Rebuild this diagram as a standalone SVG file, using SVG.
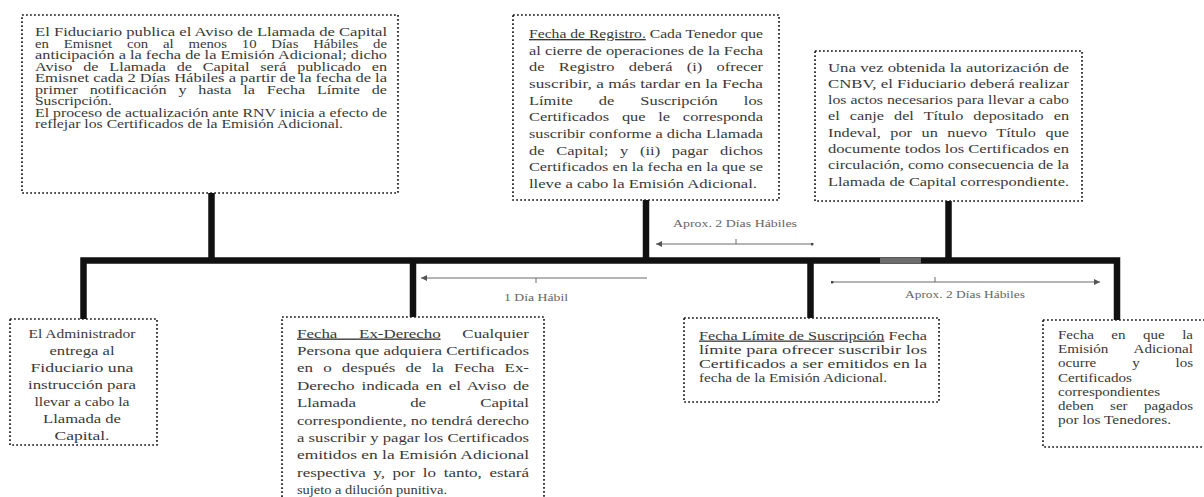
<svg xmlns="http://www.w3.org/2000/svg" width="1204" height="497" viewBox="0 0 1204 497">
<defs>
<style>
.box{fill:#fff;stroke:#1a1a1a;stroke-width:1.7;stroke-dasharray:1.8 2.2}
.c{fill:none;stroke:#111;stroke-width:6.5;stroke-linejoin:miter}
.t{font-family:"Liberation Serif","Times New Roman",serif;fill:#383838}
.f115{font-size:11.5px}
.f125{font-size:12.5px}
.f13{font-size:13px}
.f135{font-size:13.5px}
.u{text-decoration:underline}
.ar{stroke:#6a6a6a;stroke-width:1;fill:none}
.lb{font-family:"Liberation Serif","Times New Roman",serif;font-size:10px;fill:#666}
</style>
<marker id="ah" viewBox="0 0 8 8" refX="8" refY="4" markerWidth="6" markerHeight="6" markerUnits="userSpaceOnUse" orient="auto-start-reverse"><path d="M0,0 L8,4 L0,8 z" fill="#555"/></marker>
<marker id="dot" viewBox="0 0 4 4" refX="2" refY="2" markerWidth="3" markerHeight="3" markerUnits="userSpaceOnUse"><circle cx="2" cy="2" r="2" fill="#444"/></marker>
</defs>
<rect width="1204" height="497" fill="#fff"/>

<g id="connectors">
<path class="c" d="M83.5 319 V260.5 H1117 V320"/>
<path class="c" d="M211.5 193 V260.5"/>
<path class="c" d="M646 200 V260.5"/>
<path class="c" d="M948.5 201 V260.5"/>
<path class="c" d="M413 260.5 V317"/>
<path class="c" d="M810.5 260.5 V318"/>
<rect x="880" y="257.5" width="41" height="6" fill="#6d6d6d"/>
<line class="ar" x1="656" y1="244" x2="812" y2="244" marker-start="url(#ah)" marker-end="url(#dot)"/>
<line class="ar" x1="736" y1="239" x2="736" y2="244"/>
<text class="lb" x="673" y="227" textLength="124" lengthAdjust="spacingAndGlyphs">Aprox. 2 Días Hábiles</text>
<line class="ar" x1="421" y1="278" x2="647" y2="278" marker-start="url(#ah)"/>
<line class="ar" x1="536" y1="278" x2="536" y2="283"/>
<text class="lb" x="504" y="301" textLength="64" lengthAdjust="spacingAndGlyphs">1 Día Hábil</text>
<line class="ar" x1="832" y1="282" x2="1100" y2="282" marker-start="url(#dot)" marker-end="url(#ah)"/>
<line class="ar" x1="935" y1="277" x2="935" y2="282"/>
<text class="lb" x="905" y="298" textLength="120" lengthAdjust="spacingAndGlyphs">Aprox. 2 Días Hábiles</text>
</g>

<g id="node-aviso">
<rect class="box" x="22" y="15" width="376" height="178"/>
<g class="t f115">
<text x="35" y="36" textLength="352" lengthAdjust="spacingAndGlyphs">El Fiduciario publica el Aviso de Llamada de Capital</text>
<text x="35" y="47.5" textLength="352" lengthAdjust="spacingAndGlyphs" style="word-spacing:8.7px">en Emisnet con al menos 10 Días Hábiles de</text>
<text x="35" y="59" textLength="352" lengthAdjust="spacingAndGlyphs">anticipación a la fecha de la Emisión Adicional; dicho</text>
<text x="35" y="70.5" textLength="352" lengthAdjust="spacingAndGlyphs" style="word-spacing:4.8px">Aviso de Llamada de Capital será publicado en</text>
<text x="35" y="82" textLength="352" lengthAdjust="spacingAndGlyphs">Emisnet cada 2 Días Hábiles a partir de la fecha de la</text>
<text x="35" y="93.5" textLength="352" lengthAdjust="spacingAndGlyphs" style="word-spacing:5.6px">primer notificación y hasta la Fecha Límite de</text>
<text x="35" y="105" textLength="77" lengthAdjust="spacingAndGlyphs">Suscripción.</text>
<text x="35" y="116.5" textLength="352" lengthAdjust="spacingAndGlyphs">El proceso de actualización ante RNV inicia a efecto de</text>
<text x="35" y="128" textLength="308" lengthAdjust="spacingAndGlyphs">reflejar los Certificados de la Emisión Adicional.</text>
</g>
</g>

<g id="node-registro">
<rect class="box" x="513" y="15" width="266" height="185"/>
<g class="t f135">
<text x="529" y="38" textLength="234" lengthAdjust="spacingAndGlyphs"><tspan class="u">Fecha de Registro.</tspan> Cada Tenedor que</text>
<text x="529" y="54.6" textLength="234" lengthAdjust="spacingAndGlyphs">al cierre de operaciones de la Fecha</text>
<text x="529" y="71.3" textLength="234" lengthAdjust="spacingAndGlyphs" style="word-spacing:8.4px">de Registro deberá (i) ofrecer</text>
<text x="529" y="87.9" textLength="234" lengthAdjust="spacingAndGlyphs">suscribir, a más tardar en la Fecha</text>
<text x="529" y="104.6" textLength="234" lengthAdjust="spacingAndGlyphs" style="word-spacing:18.1px">Límite de Suscripción los</text>
<text x="529" y="121.2" textLength="234" lengthAdjust="spacingAndGlyphs" style="word-spacing:7.1px">Certificados que le corresponda</text>
<text x="529" y="137.9" textLength="234" lengthAdjust="spacingAndGlyphs">suscribir conforme a dicha Llamada</text>
<text x="529" y="154.5" textLength="234" lengthAdjust="spacingAndGlyphs" style="word-spacing:6.3px">de Capital; y (ii) pagar dichos</text>
<text x="529" y="171.2" textLength="234" lengthAdjust="spacingAndGlyphs">Certificados en la fecha en la que se</text>
<text x="529" y="187.8" textLength="228" lengthAdjust="spacingAndGlyphs">lleve a cabo la Emisión Adicional.</text>
</g>
</g>

<g id="node-canje">
<rect class="box" x="815" y="51" width="267" height="150"/>
<g class="t f135">
<text x="828" y="71.5" textLength="241" lengthAdjust="spacingAndGlyphs">Una vez obtenida la autorización de</text>
<text x="828" y="87.8" textLength="241" lengthAdjust="spacingAndGlyphs">CNBV, el Fiduciario deberá realizar</text>
<text x="828" y="104.1" textLength="241" lengthAdjust="spacingAndGlyphs">los actos necesarios para llevar a cabo</text>
<text x="828" y="120.4" textLength="241" lengthAdjust="spacingAndGlyphs" style="word-spacing:5px">el canje del Título depositado en</text>
<text x="828" y="136.7" textLength="241" lengthAdjust="spacingAndGlyphs" style="word-spacing:4.6px">Indeval, por un nuevo Título que</text>
<text x="828" y="153" textLength="241" lengthAdjust="spacingAndGlyphs">documente todos los Certificados en</text>
<text x="828" y="169.3" textLength="241" lengthAdjust="spacingAndGlyphs">circulación, como consecuencia de la</text>
<text x="828" y="185.6" textLength="241" lengthAdjust="spacingAndGlyphs">Llamada de Capital correspondiente.</text>
</g>
</g>

<g id="node-administrador">
<rect class="box" x="10" y="319" width="147" height="126"/>
<g class="t f13">
<text x="28.5" y="337.5" textLength="107" lengthAdjust="spacingAndGlyphs">El Administrador</text>
<text x="49.5" y="354.6" textLength="65" lengthAdjust="spacingAndGlyphs">entrega al</text>
<text x="30.5" y="371.7" textLength="103" lengthAdjust="spacingAndGlyphs">Fiduciario una</text>
<text x="28" y="388.8" textLength="108" lengthAdjust="spacingAndGlyphs">instrucción para</text>
<text x="34.5" y="405.9" textLength="95" lengthAdjust="spacingAndGlyphs">llevar a cabo la</text>
<text x="43" y="423" textLength="78" lengthAdjust="spacingAndGlyphs">Llamada de</text>
<text x="54.5" y="440.1" textLength="55" lengthAdjust="spacingAndGlyphs">Capital.</text>
</g>
</g>

<g id="node-exderecho">
<rect class="box" x="282" y="317" width="262" height="200"/>
<g class="t f135">
<text x="297" y="337.5" textLength="232" lengthAdjust="spacingAndGlyphs" style="word-spacing:14px"><tspan class="u">Fecha Ex-Derecho</tspan> Cualquier</text>
<text x="297" y="354.9" textLength="232" lengthAdjust="spacingAndGlyphs">Persona que adquiera Certificados</text>
<text x="297" y="372.3" textLength="232" lengthAdjust="spacingAndGlyphs" style="word-spacing:4.8px">en o después de la Fecha Ex-</text>
<text x="297" y="389.7" textLength="232" lengthAdjust="spacingAndGlyphs" style="word-spacing:2px">Derecho indicada en el Aviso de</text>
<text x="297" y="407.1" textLength="232" lengthAdjust="spacingAndGlyphs" style="word-spacing:40px">Llamada de Capital</text>
<text x="297" y="424.5" textLength="232" lengthAdjust="spacingAndGlyphs">correspondiente, no tendrá derecho</text>
<text x="297" y="441.9" textLength="232" lengthAdjust="spacingAndGlyphs">a suscribir y pagar los Certificados</text>
<text x="297" y="459.3" textLength="232" lengthAdjust="spacingAndGlyphs">emitidos en la Emisión Adicional</text>
<text x="297" y="476.7" textLength="232" lengthAdjust="spacingAndGlyphs" style="word-spacing:2.7px">respectiva y, por lo tanto, estará</text>
<text x="297" y="494.1" textLength="150" lengthAdjust="spacingAndGlyphs">sujeto a dilución punitiva.</text>
</g>
</g>

<g id="node-limite">
<rect class="box" x="684" y="318" width="255" height="84"/>
<g class="t f13">
<text x="699" y="339.5" textLength="228" lengthAdjust="spacingAndGlyphs"><tspan class="u">Fecha Límite de Suscripción</tspan> Fecha</text>
<text x="699" y="353.5" textLength="228" lengthAdjust="spacingAndGlyphs">límite para ofrecer suscribir los</text>
<text x="699" y="367.5" textLength="228" lengthAdjust="spacingAndGlyphs">Certificados a ser emitidos en la</text>
<text x="699" y="381.5" textLength="188" lengthAdjust="spacingAndGlyphs">fecha de la Emisión Adicional.</text>
</g>
</g>

<g id="node-emision">
<rect class="box" x="1043" y="320" width="170" height="127"/>
<g class="t f125">
<text x="1058" y="339" textLength="135" lengthAdjust="spacingAndGlyphs" style="word-spacing:11.5px">Fecha en que la</text>
<text x="1058" y="353.2" textLength="135" lengthAdjust="spacingAndGlyphs" style="word-spacing:18.4px">Emisión Adicional</text>
<text x="1058" y="367.4" textLength="135" lengthAdjust="spacingAndGlyphs" style="word-spacing:26.8px">ocurre y los</text>
<text x="1058" y="381.6" textLength="74" lengthAdjust="spacingAndGlyphs">Certificados</text>
<text x="1058" y="395.8" textLength="102" lengthAdjust="spacingAndGlyphs">correspondientes</text>
<text x="1058" y="410" textLength="135" lengthAdjust="spacingAndGlyphs" style="word-spacing:10.5px">deben ser pagados</text>
<text x="1058" y="424.2" textLength="113" lengthAdjust="spacingAndGlyphs">por los Tenedores.</text>
</g>
</g>
</svg>
